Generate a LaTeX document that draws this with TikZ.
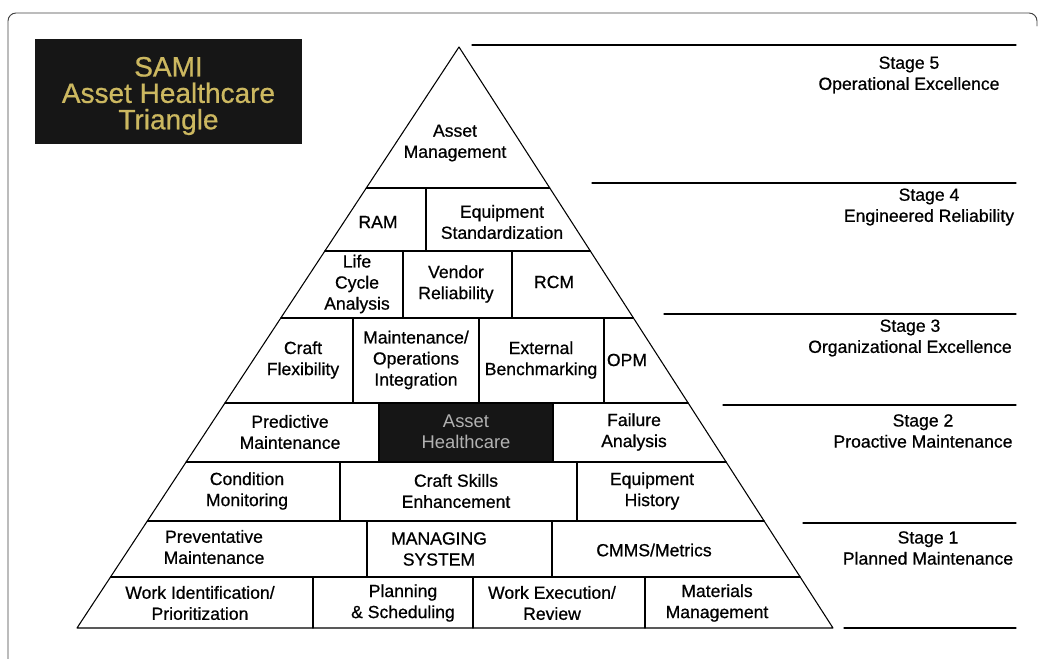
\documentclass[tikz,border=0pt]{standalone}
\usepackage{fontspec}
\setmainfont{Liberation Sans}[FakeBold=0.7]
\usetikzlibrary{calc}
\definecolor{titlegold}{RGB}{204,184,96}
\definecolor{boxblack}{RGB}{22,22,22}
\definecolor{boxtext}{RGB}{178,178,178}
\newfontfamily\lightfont{Liberation Sans}

\begin{document}
\begin{tikzpicture}[x=0.75pt, y=-0.75pt, line join=round, line cap=round,
		lbl/.style={align=center, inner sep=0pt, font=\fontsize{13.2}{15.8}\selectfont},
		edge/.style={line width=0.8pt},
		stageline/.style={line width=0.8pt}]
		\useasboundingbox (0,0) rectangle (1040,659);
		% frame and title
		\draw[line width=0.7pt, black!75, rounded corners=6pt] (8,659) -- (8,13) -- (1037,13) -- (1037,26);
		\fill[boxblack] (35,39) rectangle (302,144);
		\node[align=center, inner sep=0pt, text=titlegold, font=\fontsize{21}{19.8}\selectfont] (title) at (168.5,96) {SAMI\\Asset Healthcare\\Triangle};
		% triangle
		\coordinate (apex) at (459,47);
		\coordinate (bl) at (77,628);
		\coordinate (br) at (833,628);
		\fill[boxblack] (379,403) rectangle (553,462);
		\draw[edge] (bl) -- (apex) -- (br) -- cycle;
		\foreach \y [evaluate=\y as \t using (\y-47)/581] in {188,251,318,403,462,521,577}
			\draw[edge] ($(apex)!\t!(bl)$) -- ($(apex)!\t!(br)$);
		\foreach \x/\ya/\yb in {426/188/251, 403/251/318, 512/251/318, 353/318/403, 479/318/403, 604/318/403, 379/403/462, 553/403/462, 340/462/521, 577/462/521, 367/521/577, 552/521/577, 313/577/628, 473/577/628, 645/577/628}
			\draw[edge] (\x,\ya) -- (\x,\yb);
		% blocks
		\node[lbl] (am) at (455,143) {Asset\\Management};
		\node[lbl] (ram) at (378,222) {RAM};
		\node[lbl] (eqstd) at (502,222) {Equipment\\Standardization};
		\node[lbl] (lca) at (357,284) {Life\\Cycle\\Analysis};
		\node[lbl] (vendor) at (456,284) {Vendor\\Reliability};
		\node[lbl] (rcm) at (554,282) {RCM};
		\node[lbl] (craft) at (303,360) {Craft\\Flexibility};
		\node[lbl] (mointeg) at (416,360) {Maintenance/\\Operations\\Integration};
		\node[lbl] (bench) at (541,360) {External\\Benchmarking};
		\node[lbl] (opm) at (627,360) {OPM};
		\node[lbl] (pdm) at (290,432) {Predictive\\Maintenance};
		\node[lbl, text=boxtext, font=\lightfont\fontsize{13.8}{15.8}\selectfont] (health) at (466,432) {Asset\\Healthcare};
		\node[lbl] (failure) at (634,432) {Failure\\Analysis};
		\node[lbl] (cm) at (247,491) {Condition\\Monitoring};
		\node[lbl] (skills) at (456,491) {Craft Skills\\Enhancement};
		\node[lbl] (eqhist) at (652,491) {Equipment\\History};
		\node[lbl] (pm) at (214,547) {Preventative\\Maintenance};
		\node[lbl] (managing) at (439,549) {MANAGING\\SYSTEM};
		\node[lbl] (cmms) at (654,550) {CMMS/Metrics};
		\node[lbl] (workid) at (200,603) {Work Identification/\\Prioritization};
		\node[lbl] (plan) at (403,603) {Planning\\\& Scheduling};
		\node[lbl] (exec) at (552,603) {Work Execution/\\Review};
		\node[lbl] (mat) at (717,603) {Materials\\Management};
		% stages
		\foreach \xa/\y in {472/45, 592/183, 664/314, 723/405, 803/523, 844/628}
			\draw[stageline] (\xa,\y) -- (1016,\y);
		\node[lbl] (stage5) at (909,75) {Stage 5\\Operational Excellence};
		\node[lbl] (stage4) at (929,207) {Stage 4\\Engineered Reliability};
		\node[lbl] (stage3) at (910,338) {Stage 3\\Organizational Excellence};
		\node[lbl] (stage2) at (923,431) {Stage 2\\Proactive Maintenance};
		\node[lbl] (stage1) at (928,548) {Stage 1\\Planned Maintenance};
\end{tikzpicture}
\end{document}
